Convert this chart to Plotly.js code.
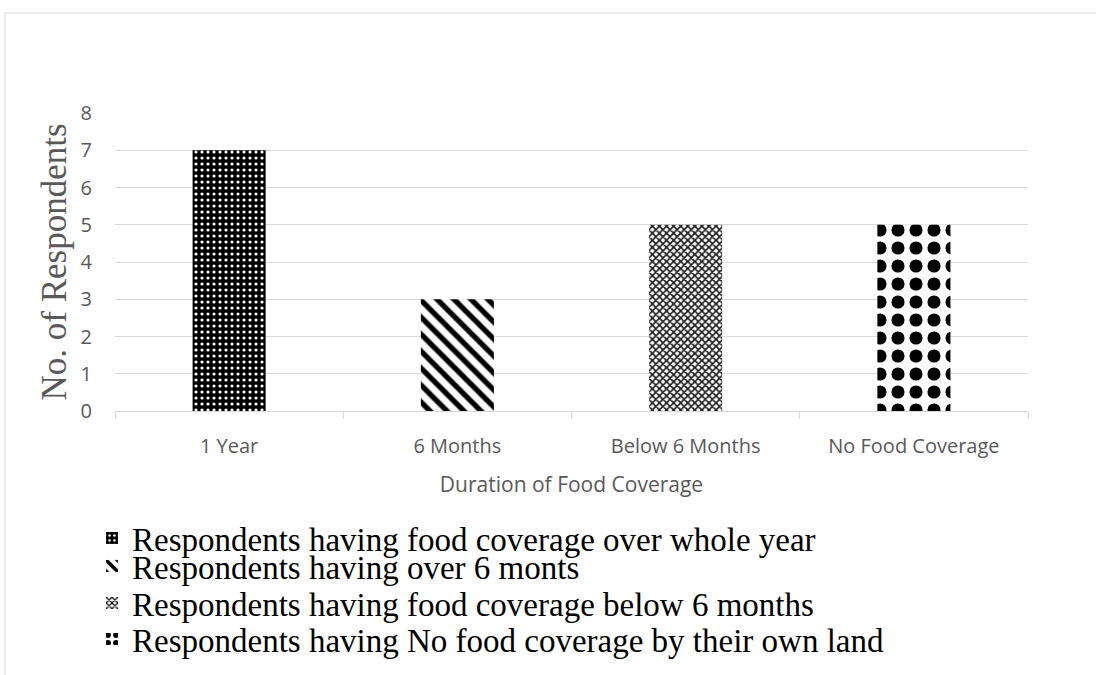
<!DOCTYPE html>
<html>
<head>
<meta charset="utf-8">
<script src="https://cdn.plot.ly/plotly-3.0.1.min.js"></script>
<style>
  html, body { margin: 0; padding: 0; background: #ffffff; }
  #chart { width: 1096px; height: 675px; }
</style>
</head>
<body>
<div id="chart"></div>
<script>
// Food coverage survey: respondents per coverage duration
const categories = ["1 Year", "6 Months", "Below 6 Months", "No Food Coverage"];
const respondents = [7, 3, 5, 5];
const yTicks = [0, 1, 2, 3, 4, 5, 6, 7, 8];
const legendTexts = [
  "Respondents having food coverage over whole year",
  "Respondents having over 6 monts",
  "Respondents having food coverage below 6 months",
  "Respondents having No food coverage by their own land"
];

// Fill pattern for each bar
const patterns = [
  { shape: ".", bgcolor: "#000000", fgcolor: "#ffffff", size: 6, solidity: 0.22 },
  { shape: "\\", bgcolor: "#ffffff", fgcolor: "#000000", size: 12, solidity: 0.45 },
  { shape: "x", bgcolor: "#ffffff", fgcolor: "#1a1a1a", size: 5, solidity: 0.55 },
  { shape: ".", bgcolor: "#ffffff", fgcolor: "#000000", size: 18, solidity: 0.42 }
];

// Plot area geometry (px) used to place the legend boxes
const W = 1096, H = 675;
const M = { l: 115, r: 68, t: 113, b: 264, autoexpand: false };
const plotW = W - M.l - M.r, plotH = H - M.t - M.b;
const px2x = (px) => (px - M.l) / plotW;
const py2y = (py) => (H - M.b - py) / plotH;

// One legend box per line, so each line can sit at its own height
const legendNames = ["legend", "legend2", "legend3", "legend4"];
const legendRows = [538, 566, 603, 639];

const traces = categories.map((c, i) => ({
  type: "bar",
  x: [c],
  y: [respondents[i]],
  name: legendTexts[i],
  width: 0.32,
  legend: legendNames[i],
  marker: { color: patterns[i].bgcolor, pattern: patterns[i], line: { width: 0 } },
  hovertemplate: "%{x}: %{y}<extra></extra>"
}));

const layout = {
  width: W, height: H,
  margin: M,
  paper_bgcolor: "#ffffff",
  plot_bgcolor: "#ffffff",
  barmode: "overlay",
  showlegend: true,
  font: { family: "Open Sans, sans-serif", color: "#595959" },
  xaxis: {
    type: "category",
    categoryorder: "array",
    categoryarray: categories,
    showline: true, linecolor: "#d9d9d9", linewidth: 1,
    ticks: "outside", tickson: "boundaries", ticklen: 7, tickcolor: "#d9d9d9",
    ticklabelstandoff: 17,
    tickfont: { family: "Open Sans, sans-serif", size: 20, color: "#595959" },
    showgrid: false, zeroline: false,
    title: { text: "Duration of Food Coverage", font: { family: "Open Sans, sans-serif", size: 21, color: "#595959" }, standoff: 19 }
  },
  yaxis: {
    range: [0, 8],
    tickvals: yTicks,
    showline: false,
    showgrid: true, gridcolor: "#d9d9d9", gridwidth: 1,
    zeroline: false,
    ticks: "",
    ticklabelstandoff: 22,
    tickfont: { family: "Open Sans, sans-serif", size: 20, color: "#595959" },
    title: { text: "No. of Respondents", font: { family: "Liberation Serif, Times New Roman, serif", size: 35, color: "#595959" }, standoff: 3 }
  },
  shapes: [{
    type: "rect", xref: "paper", yref: "paper",
    x0: px2x(5), x1: px2x(1110), y0: py2y(690), y1: py2y(13),
    line: { color: "#d9d9d9", width: 1 }, fillcolor: "rgba(0,0,0,0)", layer: "below"
  }]
};

legendNames.forEach((ln, i) => {
  layout[ln] = {
    x: px2x(92), y: py2y(legendRows[i]), xanchor: "left", yanchor: "middle",
    bgcolor: "rgba(0,0,0,0)", borderwidth: 0,
    font: { family: "Liberation Serif, Times New Roman, serif", size: 33, color: "#000000" },
    itemwidth: 30
  };
});

Plotly.newPlot("chart", traces, layout, { displayModeBar: false, responsive: false });
</script>
</body>
</html>
